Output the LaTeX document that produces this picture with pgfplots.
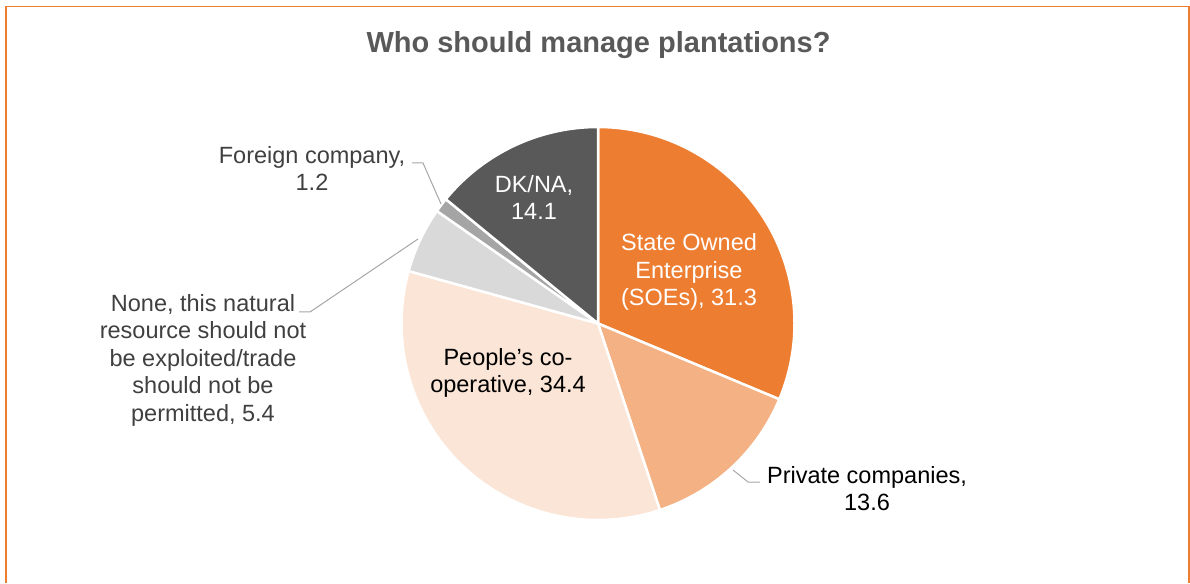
\documentclass[border=0pt]{standalone}
\usepackage{fontspec}
\setmainfont{Liberation Sans}
\usepackage{pgfplots}
\pgfplotsset{compat=1.18}
\definecolor{soe}{HTML}{ED7D31}
\definecolor{priv}{HTML}{F4B183}
\definecolor{coop}{HTML}{FBE5D6}
\definecolor{nonec}{HTML}{D9D9D9}
\definecolor{foreign}{HTML}{A5A5A5}
\definecolor{dkna}{HTML}{595959}
\definecolor{leader}{HTML}{A6A6A6}
\definecolor{frame}{HTML}{ED7D31}
\definecolor{titlec}{HTML}{595959}
\definecolor{lblgray}{HTML}{404040}
% slice: colour, cumulative percent at start, cumulative percent at end
\newcommand{\slice}[3]{%
 \addplot[fill=#1, draw=white, line width=2.5pt, line join=round,
   domain={90-3.6*#3}:{90-3.6*#2}, samples=90, variable=\t]
   ({598+196.5*cos(\t)},{259.5+196.5*sin(\t)}) -- (axis cs:598,259.5) -- cycle;}
\begin{document}
\begin{tikzpicture}
\begin{axis}[x=1pt, y=1pt, xmin=0, xmax=1190, ymin=0, ymax=583,
  hide axis, clip=false, anchor=origin, at={(0,0)}]
\path (axis cs:0,0) rectangle (axis cs:1190,583);
% values: SOEs 31.3, Private 13.6, People's co-op 34.4, None 5.4, Foreign 1.2, DK/NA 14.1
\slice{soe}{0}{31.3}
\slice{priv}{31.3}{44.9}
\slice{coop}{44.9}{79.3}
\slice{nonec}{79.3}{84.7}
\slice{foreign}{84.7}{85.9}
\slice{dkna}{85.9}{100}
% leader lines
\addplot[leader, line width=1pt, mark=none] coordinates {(412,420) (423,420) (441,379)};
\addplot[leader, line width=1pt, mark=none] coordinates {(299,271) (310,271) (418,344)};
\addplot[leader, line width=1pt, mark=none] coordinates {(733,113) (748,101) (760,101)};
% frame
\draw[frame, line width=1.8pt] (axis cs:6,0) -- (axis cs:6,576.5) -- (axis cs:1189,576.5) -- (axis cs:1189,0);
% title
\node[anchor=base, text=titlec, font=\fontsize{29}{33}\selectfont\bfseries] at (axis cs:598.5,530) {Who should manage plantations?};
% labels
\tikzset{lbl/.style={align=center, font=\fontsize{23.5}{27.5}\selectfont, inner sep=0pt}}
\node[lbl, text=white] at (axis cs:689,311) {State Owned\\Enterprise\\(SOEs), 31.3};
\node[lbl, text=white] at (axis cs:534,385.5) {DK/NA,\\14.1};
\node[lbl, text=black] at (axis cs:508,210) {People’s co-\\operative, 34.4};
\node[lbl, text=black] at (axis cs:867,94.5) {Private companies,\\13.6};
\node[lbl, text=lblgray] at (axis cs:312,414.5) {Foreign company,\\1.2};
\node[lbl, text=lblgray] at (axis cs:203,223) {None, this natural\\resource should not\\be exploited/trade\\should not be\\permitted, 5.4};
\end{axis}
\end{tikzpicture}
\end{document}
